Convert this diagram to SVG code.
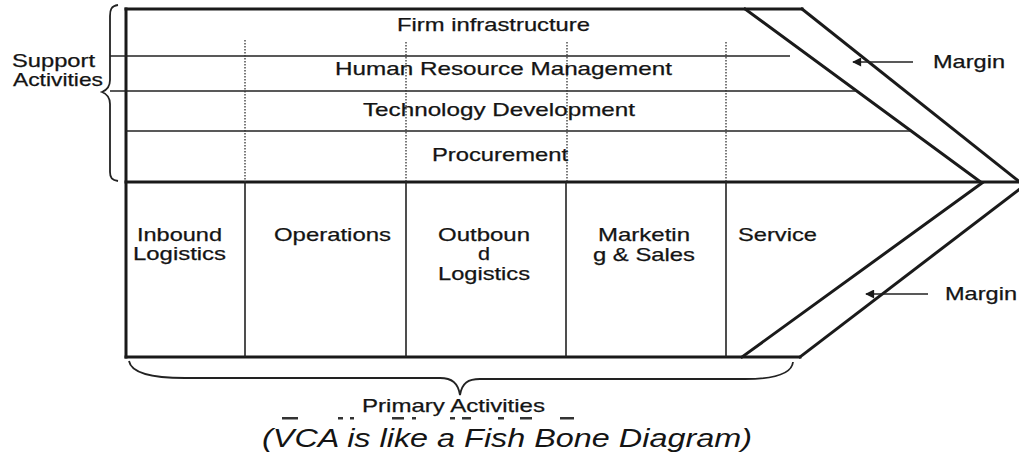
<svg xmlns="http://www.w3.org/2000/svg" width="1019" height="466" viewBox="0 0 1019 466">
  <defs>
    <marker id="head" viewBox="0 0 10 10" refX="9" refY="5" markerWidth="11" markerHeight="9" orient="auto" markerUnits="userSpaceOnUse">
      <path d="M0,0 L10,5 L0,10 Z" fill="#1a1a1a"/>
    </marker>
    <style>
      .thick { stroke: #1a1a1a; stroke-width: 3; fill: none; stroke-linecap: square; }
      .thin { stroke: #222; stroke-width: 1.6; fill: none; }
      .dot { stroke: #333; stroke-width: 1.3; stroke-dasharray: 1.5 1.5; fill: none; }
      .brace { stroke: #222; stroke-width: 1.8; fill: none; }
      .lbl { font-family: "Liberation Sans", Arial, sans-serif; font-size: 18.5px; fill: #141414; stroke: #141414; stroke-width: 0.25; }
      .cap { font-family: "Liberation Sans", Arial, sans-serif; font-size: 25px; font-style: italic; fill: #141414; }
      .frag { fill: #333; }
    </style>
  </defs>

  <rect width="1019" height="466" fill="#ffffff"/>

  <!-- frame of the value chain -->
  <g id="frame">
    <line class="thick" x1="126" y1="9" x2="802" y2="9"/>
    <line class="thick" x1="126" y1="9" x2="126" y2="357"/>
    <line class="thick" x1="126" y1="182" x2="1019" y2="182"/>
    <line class="thick" x1="126" y1="357" x2="800" y2="357"/>
    <!-- margin chevron -->
    <polyline class="thick" points="745,9 982,183 742,357"/>
    <polyline class="thick" points="802,9 1021,183"/>
    <polyline class="thick" points="1021,188 800,357"/>
  </g>

  <!-- support activity rows -->
  <g id="support-rows">
    <line class="thin" x1="110" y1="56" x2="790" y2="56"/>
    <line class="thin" x1="110" y1="91" x2="856" y2="91"/>
    <line class="thin" x1="126" y1="131" x2="910" y2="131"/>
    <line class="dot" x1="245" y1="40" x2="245" y2="182"/>
    <line class="dot" x1="406" y1="42" x2="406" y2="182"/>
    <line class="dot" x1="567" y1="42" x2="567" y2="182"/>
    <line class="dot" x1="726" y1="42" x2="726" y2="182"/>
  </g>

  <!-- primary activity columns -->
  <g id="primary-columns">
    <line class="thin" x1="245" y1="182" x2="245" y2="357"/>
    <line class="thin" x1="406" y1="182" x2="406" y2="357"/>
    <line class="thin" x1="566" y1="182" x2="566" y2="357"/>
    <line class="thin" x1="726" y1="182" x2="726" y2="357"/>
  </g>

  <g id="firm-infrastructure">
    <text class="lbl" x="397" y="31" textLength="193" lengthAdjust="spacingAndGlyphs">Firm infrastructure</text>
  </g>
  <g id="hrm">
    <text class="lbl" x="335" y="75" textLength="337" lengthAdjust="spacingAndGlyphs">Human Resource Management</text>
  </g>
  <g id="technology">
    <text class="lbl" x="363" y="116" textLength="272" lengthAdjust="spacingAndGlyphs">Technology Development</text>
  </g>
  <g id="procurement">
    <text class="lbl" x="432" y="161" textLength="136" lengthAdjust="spacingAndGlyphs">Procurement</text>
  </g>

  <g id="inbound">
    <text class="lbl" x="137" y="241" textLength="85" lengthAdjust="spacingAndGlyphs">Inbound</text>
    <text class="lbl" x="133" y="260" textLength="93" lengthAdjust="spacingAndGlyphs">Logistics</text>
  </g>
  <g id="operations">
    <text class="lbl" x="274" y="241" textLength="117" lengthAdjust="spacingAndGlyphs">Operations</text>
  </g>
  <g id="outbound">
    <text class="lbl" x="438" y="241" textLength="92" lengthAdjust="spacingAndGlyphs">Outboun</text>
    <text class="lbl" x="478" y="260" textLength="12" lengthAdjust="spacingAndGlyphs">d</text>
    <text class="lbl" x="438" y="280" textLength="92" lengthAdjust="spacingAndGlyphs">Logistics</text>
  </g>
  <g id="marketing">
    <text class="lbl" x="598" y="241" textLength="92" lengthAdjust="spacingAndGlyphs">Marketin</text>
    <text class="lbl" x="593" y="261" textLength="102" lengthAdjust="spacingAndGlyphs">g &amp; Sales</text>
  </g>
  <g id="service">
    <text class="lbl" x="738" y="241" textLength="79" lengthAdjust="spacingAndGlyphs">Service</text>
  </g>

  <!-- braces and group labels -->
  <g id="support-activities">
    <path class="brace" d="M118,5 C111,6 110,10 110,16 L110,80 C110,87 107,90 102,92 C107,94 110,97 110,104 L110,172 C110,178 112,180 118,181"/>
    <text class="lbl" x="12" y="67" textLength="83" lengthAdjust="spacingAndGlyphs">Support</text>
    <text class="lbl" x="13" y="86" textLength="90" lengthAdjust="spacingAndGlyphs">Activities</text>
  </g>
  <g id="primary-activities">
    <path class="brace" d="M129,361 C131,372 150,378 185,378 L440,378 C452,378 458,383 460,395 C462,383 468,379 480,379 L745,379 C780,379 792,372 793,362"/>
    <text class="lbl" x="362" y="412" textLength="183" lengthAdjust="spacingAndGlyphs">Primary Activities</text>
  </g>

  <!-- margin pointers -->
  <g id="connectors">
    <line class="thin" x1="913" y1="62" x2="853" y2="62" marker-end="url(#head)"/>
    <line class="thin" x1="928" y1="294" x2="866" y2="294" marker-end="url(#head)"/>
  </g>
  <g id="margin-top">
    <text class="lbl" x="933" y="68" textLength="72" lengthAdjust="spacingAndGlyphs">Margin</text>
  </g>
  <g id="margin-bottom">
    <text class="lbl" x="945" y="300" textLength="72" lengthAdjust="spacingAndGlyphs">Margin</text>
  </g>

  <!-- cut-off caption line below the figure -->
  <g id="caption-fragments">
    <rect class="frag" x="282" y="417" width="16" height="2.5"/>
    <rect class="frag" x="338" y="417" width="5" height="2.5"/>
    <rect class="frag" x="350" y="417" width="4" height="2.5"/>
    <rect class="frag" x="392" y="417" width="12" height="2.5"/>
    <rect class="frag" x="412" y="417" width="4" height="2.5"/>
    <rect class="frag" x="450" y="417" width="5" height="2.5"/>
    <rect class="frag" x="462" y="417" width="9" height="2.5"/>
    <rect class="frag" x="498" y="417" width="6" height="2.5"/>
    <rect class="frag" x="520" y="417" width="12" height="2.5"/>
    <rect class="frag" x="560" y="417" width="14" height="2.5"/>
  </g>

  <g id="caption">
    <text class="cap" x="262" y="447" textLength="490" lengthAdjust="spacingAndGlyphs">(VCA is like a Fish Bone Diagram)</text>
  </g>
</svg>
